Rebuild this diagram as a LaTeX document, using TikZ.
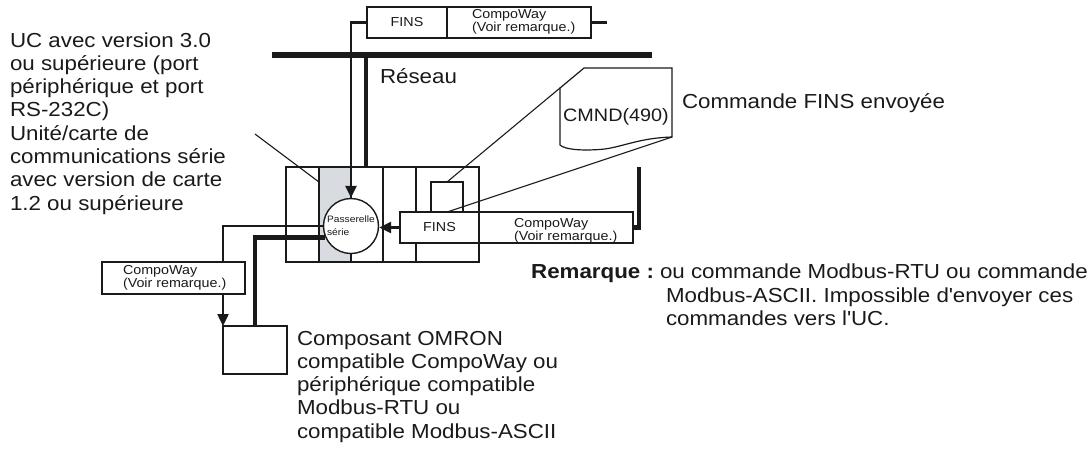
\documentclass[tikz,border=0pt]{standalone}
\usepackage{fontspec}
\setmainfont{Liberation Sans}[FakeStretch=1.1]
\usetikzlibrary{arrows.meta}
\definecolor{colgray}{HTML}{D8DBDF}
\definecolor{ink}{HTML}{1A1A1A}
\begin{document}
\begin{tikzpicture}[x=1pt,y=-1pt,color=ink,
  box/.style={draw,line width=1.3pt,fill=white,inner sep=0pt,outer sep=0pt,anchor=north west},
  txt/.style={inner sep=0pt,outer sep=0pt,align=left},
  big/.style={font=\fontsize{20.3}{23.3}\selectfont},
  small/.style={font=\fontsize{13}{12}\selectfont},
  thinline/.style={line width=2.4pt},
  thickline/.style={line width=4.4pt},
  leader/.style={line width=1.1pt},
  arr/.style={-{Triangle[length=12pt,width=11pt]}},
]
\useasboundingbox (0,0) rectangle (1090,451);

% network
\coordinate (na) at (272,55);
\coordinate (nb) at (652,55);
\draw[line width=5.5pt] (na) -- (nb);

% rack
\fill[colgray] (319,167) rectangle (351,262);
\node[box,fill=none,minimum width=193pt,minimum height=95pt] (rack) at (286,167) {};
\foreach \x in {319,351,383,416} \draw[line width=1.3pt] (\x,167) -- (\x,262);

\coordinate (nd) at (366,55);
\draw[thickline] (nd) -- (nd |- rack.north);

\node[box,minimum width=32pt,minimum height=30pt] (sr) at (431,182) {};

% gateway
\node[draw,circle,line width=1.4pt,fill=white,minimum size=55pt,inner sep=0pt,align=left,font=\fontsize{9.3}{13}\selectfont] (gw) at (351,226) {Passerelle\\série};

% top message
\node[box,minimum width=80pt,minimum height=31pt,small] (tf) at (367,7) {FINS};
\node[box,minimum width=144pt,minimum height=31pt] (tc) at (447,7) {};
\node[txt,small,anchor=north west] (tct) at (472,8) {\rule{0pt}{10pt}CompoWay\\(Voir remarque.)};
\coordinate (st) at (607,22.5);
\draw[thinline] (tc.east) -- (st);
\draw[thinline,arr] (tf.west) -| (gw.north);

% lower message
\node[box,minimum width=79pt,minimum height=31pt,small] (lf) at (400,212) {FINS};
\node[box,minimum width=154pt,minimum height=31pt] (lc) at (479,212) {};
\node[txt,small,anchor=north west] (lct) at (514,217) {\rule{0pt}{10pt}CompoWay\\(Voir remarque.)};
\draw[thinline,arr] (lf.west) -- (lf.west -| gw.east);
\coordinate (rt) at (639,167);
\draw[thickline] (rt) |- (lc.east);

% left message and device
\node[box,minimum width=143pt,minimum height=32pt] (lbox) at (102,262) {};
\node[txt,small,anchor=north west] (lbt) at (123,264) {\rule{0pt}{10pt}CompoWay\\(Voir remarque.)};
\node[box,minimum width=64pt,minimum height=48pt] (dev) at (223,326) {};
\draw[thinline] (gw.west) -| (lbox.north -| dev.west);
\draw[thinline,arr] (lbox.south -| dev.west) -- (dev.north west);
\draw[thickline] (gw.204) -| (dev.north);

% document
\coordinate (d1) at (560,88);
\coordinate (d2) at (584,68);
\coordinate (d3) at (672,68);
\coordinate (d4) at (672,137);
\coordinate (d5) at (560,145);
\draw[line width=1.2pt,fill=white] (d1) -- (d2) -- (d3) -- (d4) .. controls (640,138) and (625,146) .. (605,149) .. controls (585,151) and (565,150) .. (d5) -- cycle;
\node[txt,anchor=base,font=\fontsize{18}{20}\selectfont] (cmnd) at (616,121) {CMND(490)};
\draw[leader] (sr.north) -- (d1);
\draw[leader] (d4) -- (sr.south);

% texts
\node[big,txt,anchor=north west] (uc) at (10,32) {\rule{0pt}{15pt}UC avec version 3.0\\ou supérieure (port\\périphérique et port\\RS-232C)\\Unité/carte de\\communications série\\avec version de carte\\1.2 ou supérieure};
\coordinate (lt1) at (255,134);
\coordinate (lt2) at (319,182);
\draw[leader] (lt1) -- (lt2);

\node[big,txt,anchor=base west] (res) at (380,83) {Réseau};
\node[big,txt,anchor=base west] (cfe) at (682,108) {Commande FINS envoyée};
\node[big,txt,anchor=north west] (comp) at (297,330) {\rule{0pt}{15pt}Composant OMRON\\compatible CompoWay ou\\périphérique compatible\\Modbus-RTU ou\\compatible Modbus-ASCII};
\node[big,txt,anchor=base east] (rem) at (654,278) {\textbf{Remarque :}};
\node[big,txt,anchor=base west] (rem1) at (660,278) {ou commande Modbus-RTU ou commande};
\node[big,txt,anchor=north west] (rem2) at (666,287) {\rule{0pt}{15pt}Modbus-ASCII. Impossible d\textquotesingle envoyer ces\\commandes vers l\textquotesingle UC.};
\end{tikzpicture}
\end{document}
